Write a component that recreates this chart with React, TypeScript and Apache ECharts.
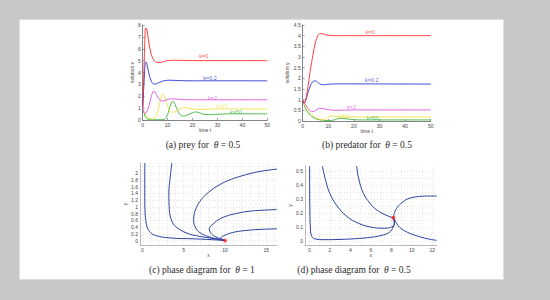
import React, { useEffect, useRef } from "react";
import * as echarts from "echarts";

type P = [number, number][];

// ---- (a) prey, theta = 0.5 ----
const preyK0: P = [[0,1.0],[0.4,3.5],[0.8,6.3],[1.2,7.75],[1.6,7.7],[2.2,6.9],[3,5.9],[4,5.2],[5,4.92],[6,4.85],[7,4.85],[8.5,4.93],[10,5.0],[13,5.03],[20,5.0],[30,5.0],[40,5.0],[50,5.0]];
const preyK02: P = [[0,1.0],[0.4,2.6],[0.8,4.2],[1.2,4.9],[1.7,4.7],[2.5,3.9],[3.5,3.25],[4.5,3.03],[5.5,3.05],[7,3.2],[9,3.32],[11,3.35],[14,3.32],[20,3.3],[50,3.3]];
const preyK2: P = [[0,1.0],[0.5,0.65],[1,0.55],[1.6,0.65],[2.5,1.2],[3.5,2.0],[4.3,2.4],[5,2.35],[6,1.95],[7,1.65],[8,1.6],[9.5,1.7],[11,1.78],[13,1.77],[16,1.72],[20,1.7],[50,1.7]];
const preyK10: P = [[0,1.0],[0.5,0.75],[1,0.5],[2,0.22],[3,0.12],[4,0.1],[5,0.2],[6,0.7],[7,1.6],[8,2.15],[8.7,2.05],[9.5,1.5],[10.5,0.9],[11.5,0.68],[12.5,0.66],[14,0.8],[15,0.95],[16.3,1.05],[18,1.0],[20,0.92],[23,0.88],[27,0.92],[32,0.93],[50,0.93]];
const preyK50: P = [[0,1.0],[0.5,0.6],[1,0.3],[1.5,0.12],[2.5,0.04],[4,0.02],[7,0.02],[8.5,0.05],[9.5,0.2],[10.5,0.8],[11.5,1.45],[12.2,1.55],[13,1.3],[14,0.8],[15,0.45],[16.5,0.32],[18,0.42],[20,0.62],[21.5,0.68],[23,0.58],[25,0.47],[27.5,0.45],[31,0.5],[36,0.52],[50,0.52]];

// ---- (b) predator, theta = 0.5 ----
const predK0: P = [[0,0.95],[0.5,0.85],[1,0.9],[1.5,1.2],[2,1.55],[3,2.4],[4,3.1],[5,3.7],[6,4.02],[7,4.1],[8,4.08],[10,4.02],[13,4.0],[50,4.0]];
const predK02: P = [[0,0.95],[0.5,0.85],[1,0.9],[2,1.3],[3,1.65],[4,1.85],[5,1.88],[6,1.8],[7,1.72],[8.5,1.7],[10,1.72],[13,1.74],[50,1.73]];
const predK2: P = [[0,1.0],[0.5,0.9],[1,0.8],[2,0.6],[3,0.48],[4,0.44],[5,0.5],[6,0.57],[7,0.6],[8,0.58],[10,0.53],[13,0.5],[20,0.52],[50,0.52]];
const predK10: P = [[0,1.0],[1,0.72],[2,0.5],[3,0.35],[4,0.25],[5,0.17],[6,0.11],[7,0.07],[8,0.05],[9,0.08],[10,0.18],[11,0.24],[12.5,0.22],[15,0.19],[20,0.19],[50,0.19]];
const predK50: P = [[0,0.95],[1,0.62],[2,0.4],[3,0.26],[4,0.17],[5,0.11],[6,0.07],[8,0.03],[10,0.02],[12,0.04],[13.5,0.1],[15,0.13],[16.5,0.11],[19,0.07],[23,0.05],[50,0.05]];

const kNames = ["k=0", "k=0.2", "k=2", "k=10", "k=50"];
const kColors = ["#ff2a2a", "#2b36d0", "#e052e0", "#f0e048", "#3cb43c"];
const preyLabelPos: P = [[24.5, 5.35], [27, 3.5], [28, 1.85], [31.7, 1.15], [37.5, 0.65]];
const predLabelPos: P = [[26.3, 4.16], [27, 1.9], [19.1, 0.65], [16.3, 0.24], [27.3, 0.14]];

// ---- (c) phase diagram, theta = 1 ----
const phaseC: P[] = [
  [[0.28,2.3],[0.28,1.8],[0.28,1.3],[0.3,0.92],[0.4,0.6],[0.6,0.38],[1.0,0.23],[1.6,0.15],[3.3,0.08],[6.5,0.05],[9,0.02],[10,0]],
  [[3.56,2.3],[3.35,1.85],[3.2,1.41],[3.25,0.92],[3.5,0.62],[4.0,0.42],[5.3,0.23],[6.8,0.13],[8.1,0.08],[10,0]],
  [[16.3,2.12],[14,2.04],[12.5,1.95],[10.8,1.82],[9.3,1.65],[8,1.43],[7.1,1.21],[6.4,0.9],[6.2,0.62],[6.5,0.35],[7.2,0.2],[8.1,0.11],[9.2,0.04],[10,0]],
  [[16.3,0.92],[14.5,0.9],[12.9,0.87],[11.3,0.8],[10.1,0.72],[9.2,0.62],[8.7,0.52],[8.1,0.35],[8.3,0.22],[8.8,0.12],[9.5,0.05],[10,0]],
  [[16.3,0.35],[14,0.33],[12.5,0.3],[11.3,0.26],[10.5,0.21],[9.8,0.14],[9.5,0.08],[9.7,0.03],[10,0]],
];
const eqC: [number, number] = [10, 0];

// ---- (d) phase diagram, theta = 0.5 ----
const phaseD: P[] = [
  [[0.03,0.535],[0.04,0.35],[0.06,0.2],[0.1,0.1],[0.2,0.04],[0.5,0.015],[1.5,0.008],[3,0.01],[4.5,0.015],[6,0.025],[7,0.038],[7.8,0.06],[8.2,0.1],[8.3,0.14],[8.2,0.165]],
  [[1.27,0.535],[1.6,0.43],[2.0,0.34],[2.7,0.25],[3.65,0.175],[4.8,0.125],[6.25,0.095],[7.3,0.09],[7.9,0.095],[8.3,0.12],[8.2,0.165]],
  [[4.62,0.535],[4.8,0.45],[5.27,0.34],[5.9,0.27],[6.58,0.22],[7.3,0.19],[7.87,0.172],[8.2,0.165]],
  [[12.43,0.32],[11.5,0.32],[10.48,0.315],[9.6,0.3],[9.17,0.28],[8.7,0.25],[8.36,0.21],[8.2,0.165]],
  [[8.2,0.165],[8.4,0.14],[8.65,0.11],[9.0,0.085],[9.6,0.06],[10.5,0.035],[11.5,0.015],[12.43,0.003]],
];
const eqD: [number, number] = [8.2, 0.165];

const cXTicks = [0,1,2,3,4,5,6,7,8,9,10,11,12,13,14,15,16];
const cXLabels = [0, 5, 10, 15];
const cYTicks = [0,0.2,0.4,0.6,0.8,1,1.2,1.4,1.6,1.8,2,2.2];
const cYLabels = [0,0.2,0.4,0.6,0.8,1,1.2,1.4,1.6,1.8,2];
const dXTicks = [0,1,2,3,4,5,6,7,8,9,10,11,12];
const dXLabels = [0, 2, 4, 6, 8, 10, 12];
const dYTicks = [0,0.05,0.1,0.15,0.2,0.25,0.3,0.35,0.4,0.45,0.5];
const dYLabels = [0, 0.1, 0.2, 0.3, 0.4, 0.5];

const captions = [
  { pre: "(a) prey for  ", post: " = 0.5", x: 203, y: 145 },
  { pre: "(b) predator for  ", post: " = 0.5", x: 367, y: 145 },
  { pre: "(c) phase diagram for  ", post: " = 1", x: 202, y: 270 },
  { pre: "(d) phase diagram for  ", post: " = 0.5", x: 354, y: 270 },
];

const SANS = "Liberation Sans, Arial, sans-serif";
const SERIF = "Liberation Serif, Times New Roman, serif";
const fmt = (v: number) => String(+(+v).toFixed(2));

function timeAxis(grid: number, extra: any) {
  return {
    type: "value",
    gridIndex: grid,
    axisLine: { show: true, onZero: false, lineStyle: { color: "#666", width: 0.8 } },
    axisTick: { show: true, inside: true, length: 2, lineStyle: { color: "#666", width: 0.6 } },
    axisLabel: { fontSize: 5, color: "#444", margin: 2, fontFamily: SANS, formatter: fmt },
    splitLine: { show: false },
    nameLocation: "middle",
    nameTextStyle: { fontSize: 5, color: "#444", fontFamily: SANS },
    ...extra,
  };
}

function phaseAxis(grid: number, min: number, max: number, ticks: number[], labels: number[], extra: any) {
  return {
    type: "value",
    gridIndex: grid,
    min,
    max,
    axisLine: { show: true, onZero: false, lineStyle: { color: "#aaa", width: 0.8 } },
    axisTick: { show: false, customValues: ticks },
    axisLabel: { fontSize: 5, color: "#444", margin: 2, fontFamily: SANS, customValues: labels, formatter: fmt },
    splitLine: { show: true, lineStyle: { color: "#d4d4d4", type: [1, 2], width: 0.6 } },
    nameLocation: "middle",
    nameTextStyle: { fontSize: 5, color: "#444", fontFamily: SANS },
    ...extra,
  };
}

export default function App() {
  const ref = useRef<HTMLDivElement>(null);
  useEffect(() => {
    if (!ref.current) return;
    const chart = echarts.init(ref.current, undefined, { renderer: "svg", width: 550, height: 300 });
    const preySets = [preyK0, preyK02, preyK2, preyK10, preyK50];
    const predSets = [predK0, predK02, predK2, predK10, predK50];
    const series: any[] = [];
    preySets.forEach((d, i) =>
      series.push({ type: "line", xAxisIndex: 0, yAxisIndex: 0, data: d, smooth: 0.35, showSymbol: false,
        lineStyle: { color: kColors[i], width: 0.9 }, z: 5 - i })
    );
    predSets.forEach((d, i) =>
      series.push({ type: "line", xAxisIndex: 1, yAxisIndex: 1, data: d, smooth: 0.35, showSymbol: false,
        lineStyle: { color: kColors[i], width: 0.9 }, z: 5 - i })
    );
    const labelSeries = (axis: number, pos: P) => ({
      type: "scatter", xAxisIndex: axis, yAxisIndex: axis, symbolSize: 1, z: 10,
      itemStyle: { color: "rgba(0,0,0,0)" },
      data: pos.map((p, i) => ({
        value: p, name: kNames[i],
        label: { show: true, position: "inside", formatter: "{b}", color: kColors[i], fontSize: 5.5, fontFamily: SANS },
      })),
    });
    series.push(labelSeries(0, preyLabelPos));
    series.push(labelSeries(1, predLabelPos));
    phaseC.forEach((d) =>
      series.push({ type: "line", xAxisIndex: 2, yAxisIndex: 2, data: d, smooth: 0.4, showSymbol: false,
        lineStyle: { color: "#2a3fa0", width: 1 } })
    );
    phaseD.forEach((d) =>
      series.push({ type: "line", xAxisIndex: 3, yAxisIndex: 3, data: d, smooth: 0.4, showSymbol: false,
        lineStyle: { color: "#2a3fa0", width: 1 } })
    );
    series.push({ type: "scatter", xAxisIndex: 2, yAxisIndex: 2, data: [eqC], symbolSize: 4, itemStyle: { color: "#ff2020" }, z: 10 });
    series.push({ type: "scatter", xAxisIndex: 3, yAxisIndex: 3, data: [eqD], symbolSize: 4, itemStyle: { color: "#ff2020" }, z: 10 });

    const graphics: any[] = [
      { type: "rect", z: -10, shape: { x: 19.5, y: 19.5, width: 484, height: 260 }, style: { fill: "#ffffff", stroke: "#dedede", lineWidth: 1 } },
    ];
    captions.forEach((c) =>
      graphics.push({
        type: "text", x: c.x, y: c.y, z: 10,
        style: {
          text: c.pre + "{i|θ}" + c.post,
          align: "center", verticalAlign: "middle", textAlign: "center", textVerticalAlign: "middle",
          fontSize: 9.5, fontFamily: SERIF, fill: "#2a2a2a",
          rich: { i: { fontStyle: "italic", fontSize: 9.5, fontFamily: SERIF, fill: "#2a2a2a", color: "#2a2a2a" } },
        },
      })
    );

    chart.setOption({
      animation: false,
      backgroundColor: "#c8c8c8",
      grid: [
        { left: 142.7, top: 25, width: 124.6, height: 95, outerBoundsMode: "none" },
        { left: 302.7, top: 25, width: 128, height: 96, outerBoundsMode: "none" },
        { left: 140, top: 163, width: 137, height: 82, outerBoundsMode: "none" },
        { left: 305, top: 166, width: 131.7, height: 79, outerBoundsMode: "none" },
      ],
      xAxis: [
        timeAxis(0, { min: 0, max: 50, interval: 10, name: "time t", nameGap: 7 }),
        timeAxis(1, { min: 0, max: 50, interval: 10, name: "time t", nameGap: 7 }),
        phaseAxis(2, -0.3, 16.3, cXTicks, cXLabels, { name: "x", nameGap: 6 }),
        phaseAxis(3, -0.42, 12.43, dXTicks, dXLabels, { name: "x", nameGap: 6 }),
      ],
      yAxis: [
        timeAxis(0, { min: 0, max: 8, interval: 1, name: "solution x", nameGap: 5 }),
        timeAxis(1, { min: 0, max: 4.5, interval: 0.5, name: "solution y", nameGap: 8 }),
        phaseAxis(2, -0.13, 2.3, cYTicks, cYLabels, { name: "y", nameGap: 10 }),
        phaseAxis(3, -0.03, 0.535, dYTicks, dYLabels, { name: "y", nameGap: 10 }),
      ],
      graphic: graphics,
      series,
    });
    return () => chart.dispose();
  }, []);
  return <div ref={ref} style={{ position: "fixed", left: 0, top: 0, width: 550, height: 300 }} />;
}
